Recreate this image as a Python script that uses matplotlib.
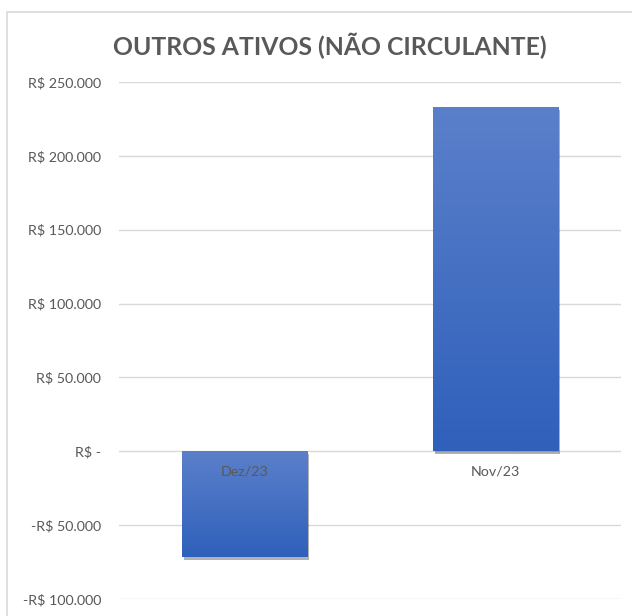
import matplotlib
matplotlib.use("Agg")
import matplotlib.pyplot as plt
import matplotlib.patheffects as pe
from matplotlib.patches import Rectangle
from matplotlib.colors import LinearSegmentedColormap
import numpy as np

categories = ["Dez/23", "Nov/23"]
values = [-71700, 232700]
yticks = [-100000, -50000, 0, 50000, 100000, 150000, 200000, 250000]
title = "OUTROS ATIVOS (NÃO CIRCULANTE)"

def fmt(v):
    if v == 0:
        return "R$ -"
    s = f"{abs(v):,}".replace(",", ".")
    return ("-" if v < 0 else "") + "R$ " + s

plt.rcParams['font.family'] = ['Lato', 'DejaVu Sans']
fig = plt.figure(figsize=(6.32, 6.16), dpi=100)
fig.patches.append(Rectangle((7/632, -0.1), 1.2, 1 - 12/616 + 0.1, transform=fig.transFigure,
                             fill=False, edgecolor="#d9d9d9", linewidth=1.2))
ax = fig.add_axes([119/632, 1 - 599/616, 502/632, (599 - 82)/616])
ax.set_ylim(-100000, 250000)
ax.set_xlim(-0.5, 1.5)
ax.set_yticks(yticks)
ax.set_yticklabels([fmt(v) for v in yticks])
ax.yaxis.grid(True, color="#d9d9d9", linewidth=1)
ax.set_axisbelow(True)
for s in ax.spines.values():
    s.set_visible(False)
ax.tick_params(axis="y", length=0, pad=13, labelsize=10.3, labelcolor="#595959")
ax.set_xticks([])

x = np.arange(len(categories))
bars = ax.bar(x, values, width=0.5, color="#4472c4", zorder=2,
              path_effects=[pe.SimplePatchShadow(offset=(1.5, -2), shadow_rgbFace="#000000", alpha=0.3), pe.Normal()])
grad = np.linspace(0, 1, 256).reshape(-1, 1)
cmap = LinearSegmentedColormap.from_list("g", ["#5b80ca", "#2f60bb"])
for b in bars:
    x0, y0, w, h = b.get_x(), b.get_y(), b.get_width(), b.get_height()
    ytop = max(y0, y0 + h); ybot = min(y0, y0 + h)
    ax.imshow(grad, extent=(x0, x0 + w, ybot, ytop), aspect="auto", cmap=cmap,
              origin="upper", zorder=3)
ax.set_xlim(-0.5, 1.5)
ax.set_ylim(-100000, 250000)

for xi, c in zip(x, categories):
    ax.annotate(c, xy=(xi, 0), xytext=(0, -10), textcoords="offset points",
                ha="center", va="top", fontsize=10.3, color="#595959", zorder=5)

fig.text(330/632, 1 - 46/616, title, ha="center", va="center", fontsize=17.8,
         fontweight="bold", color="#595959")

fig.savefig("out.png", dpi=100)
